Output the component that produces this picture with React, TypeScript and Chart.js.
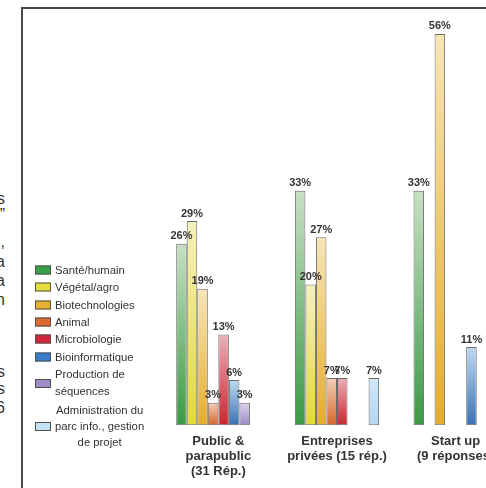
import React, { useEffect, useRef } from "react";
import { Chart, registerables } from "chart.js";

Chart.register(...registerables);

// ---- data ----
const categories: string[][] = [
  ["Public &", "parapublic", "(31 Rép.)"],
  ["Entreprises", "privées (15 rép.)"],
  ["Start up", "(9 réponses)"],
];

const seriesNames: string[][] = [
  ["Santé/humain"],
  ["Végétal/agro"],
  ["Biotechnologies"],
  ["Animal"],
  ["Microbiologie"],
  ["Bioinformatique"],
  ["Production de", "séquences"],
  ["Administration du", "parc info., gestion", "de projet"],
];

const santeHumain = [25.8, 33.3, 33.3];
const vegetalAgro = [29.0, 20.0, 0];
const biotechnologies = [19.4, 26.7, 55.6];
const animal = [3.2, 6.7, 0];
const microbiologie = [12.9, 6.7, 0];
const bioinformatique = [6.4, 0, 11.1];
const productionSequences = [3.2, 0, 0];
const administration = [0, 6.7, 0];

const seriesValues = [
  santeHumain,
  vegetalAgro,
  biotechnologies,
  animal,
  microbiologie,
  bioinformatique,
  productionSequences,
  administration,
];

// ---- styles ----
const swatchColors = ["#3aa048", "#e6de3e", "#e8b030", "#dc6a30", "#d0283a", "#3a7cc8", "#a08cc8", "#c4e2f8"];
const gradTop = ["#c8e0c4", "#f5f1bc", "#f7e5b6", "#f3d0b8", "#eab0b8", "#c0d9f0", "#ddd4ec", "#d2e8f8"];
const gradBottom = ["#3a9a45", "#e2d83a", "#e6ad2c", "#d6662c", "#cc2430", "#3872b6", "#9888c4", "#b2d6f2"];

const FONT = "'Liberation Sans', Arial, sans-serif";
const TEXT = "#333333";

const sideText: { ch: string; top: number }[] = [
  { ch: "s", top: 190 },
  { ch: "”", top: 206 },
  { ch: ",", top: 233 },
  { ch: "a", top: 253 },
  { ch: "a", top: 272 },
  { ch: "n", top: 291 },
  { ch: "s", top: 363 },
  { ch: "s", top: 380 },
  { ch: "6", top: 399 },
];

const legendCenters = [270, 287.3, 304.6, 321.9, 339.2, 356.5, 383, 426];

const valueLabels = {
  id: "valueLabels",
  afterDatasetsDraw(chart: any) {
    const ctx = chart.ctx;
    ctx.save();
    ctx.font = `bold 11px ${FONT}`;
    ctx.fillStyle = TEXT;
    ctx.textAlign = "center";
    ctx.textBaseline = "bottom";
    chart.data.datasets.forEach((ds: any, i: number) => {
      const meta = chart.getDatasetMeta(i);
      meta.data.forEach((bar: any, j: number) => {
        const v = ds.data[j];
        if (!v) return;
        ctx.fillText(`${Math.round(v)}%`, bar.x, bar.y - 2);
      });
    });
    ctx.restore();
  },
};

export default function App() {
  const ref = useRef<HTMLCanvasElement | null>(null);

  useEffect(() => {
    if (!ref.current) return;
    const datasets = seriesValues.map((vals, i) => ({
      label: seriesNames[i].join(" "),
      data: vals,
      borderColor: "#6a6a6a",
      borderWidth: 1,
      borderSkipped: false as any,
      backgroundColor: (c: any) => {
        const chart = c.chart;
        const ys = chart.scales && chart.scales.y;
        if (c.type !== "data" || !ys || !chart.chartArea) return swatchColors[i];
        const v = c.raw as number;
        const top = ys.getPixelForValue(v);
        const base = ys.getPixelForValue(0);
        if (!isFinite(top) || !isFinite(base) || Math.abs(base - top) < 0.5) return swatchColors[i];
        const g = chart.ctx.createLinearGradient(0, top, 0, base);
        g.addColorStop(0, gradTop[i]);
        g.addColorStop(1, gradBottom[i]);
        return g;
      },
    }));

    const chart = new Chart(ref.current, {
      type: "bar",
      data: { labels: categories as any, datasets },
      options: {
        animation: false,
        responsive: false,
        devicePixelRatio: 1,
        layout: { padding: { left: 159, right: 5, top: 3, bottom: 0 } },
        datasets: { bar: { categoryPercentage: 0.71, barPercentage: 1 } },
        plugins: { legend: { display: false }, tooltip: { enabled: false } },
        scales: {
          x: {
            grid: { display: false, drawTicks: false },
            border: { display: false },
            ticks: {
              color: TEXT,
              padding: 9,
              autoSkip: false,
              maxRotation: 0,
              font: { family: FONT, size: 13, weight: "bold", lineHeight: 1.15 },
            },
          },
          y: { display: false, min: 0, max: 60 },
        },
      },
      plugins: [valueLabels],
    });
    return () => chart.destroy();
  }, []);

  return (
    <div
      style={{
        position: "absolute",
        left: 0,
        top: 0,
        width: 486,
        height: 488,
        overflow: "hidden",
        background: "#ffffff",
        fontFamily: FONT,
        color: TEXT,
      }}
    >
      {sideText.map((s, i) => (
        <div
          key={i}
          style={{
            position: "absolute",
            left: -45,
            width: 50,
            top: s.top,
            textAlign: "right",
            fontSize: 16,
            lineHeight: "18px",
          }}
        >
          {s.ch}
        </div>
      ))}
      <div
        style={{
          position: "absolute",
          left: 21,
          top: 7,
          width: 600,
          height: 600,
          borderLeft: "2px solid #4a4a4a",
          borderTop: "2px solid #4a4a4a",
          boxSizing: "border-box",
        }}
      />
      <canvas
        ref={ref}
        width={520}
        height={488}
        style={{ position: "absolute", left: 0, top: 0, width: 520, height: 488 }}
      />
      {seriesNames.map((lines, i) => (
        <div
          key={i}
          style={{
            position: "absolute",
            left: 35,
            top: legendCenters[i],
            transform: "translateY(-50%)",
            display: "flex",
            alignItems: "center",
          }}
        >
          <div
            style={{
              width: 16,
              height: 9,
              background: swatchColors[i],
              border: "1px solid #505050",
              boxSizing: "border-box",
              flex: "0 0 auto",
            }}
          />
          <div
            style={{
              marginLeft: 4,
              fontSize: 11.3,
              lineHeight: lines.length > 2 ? "16px" : "17px",
              textAlign: lines.length > 2 ? "center" : "left",
              whiteSpace: "nowrap",
            }}
          >
            {lines.map((l, k) => (
              <div key={k}>{l}</div>
            ))}
          </div>
        </div>
      ))}
    </div>
  );
}
